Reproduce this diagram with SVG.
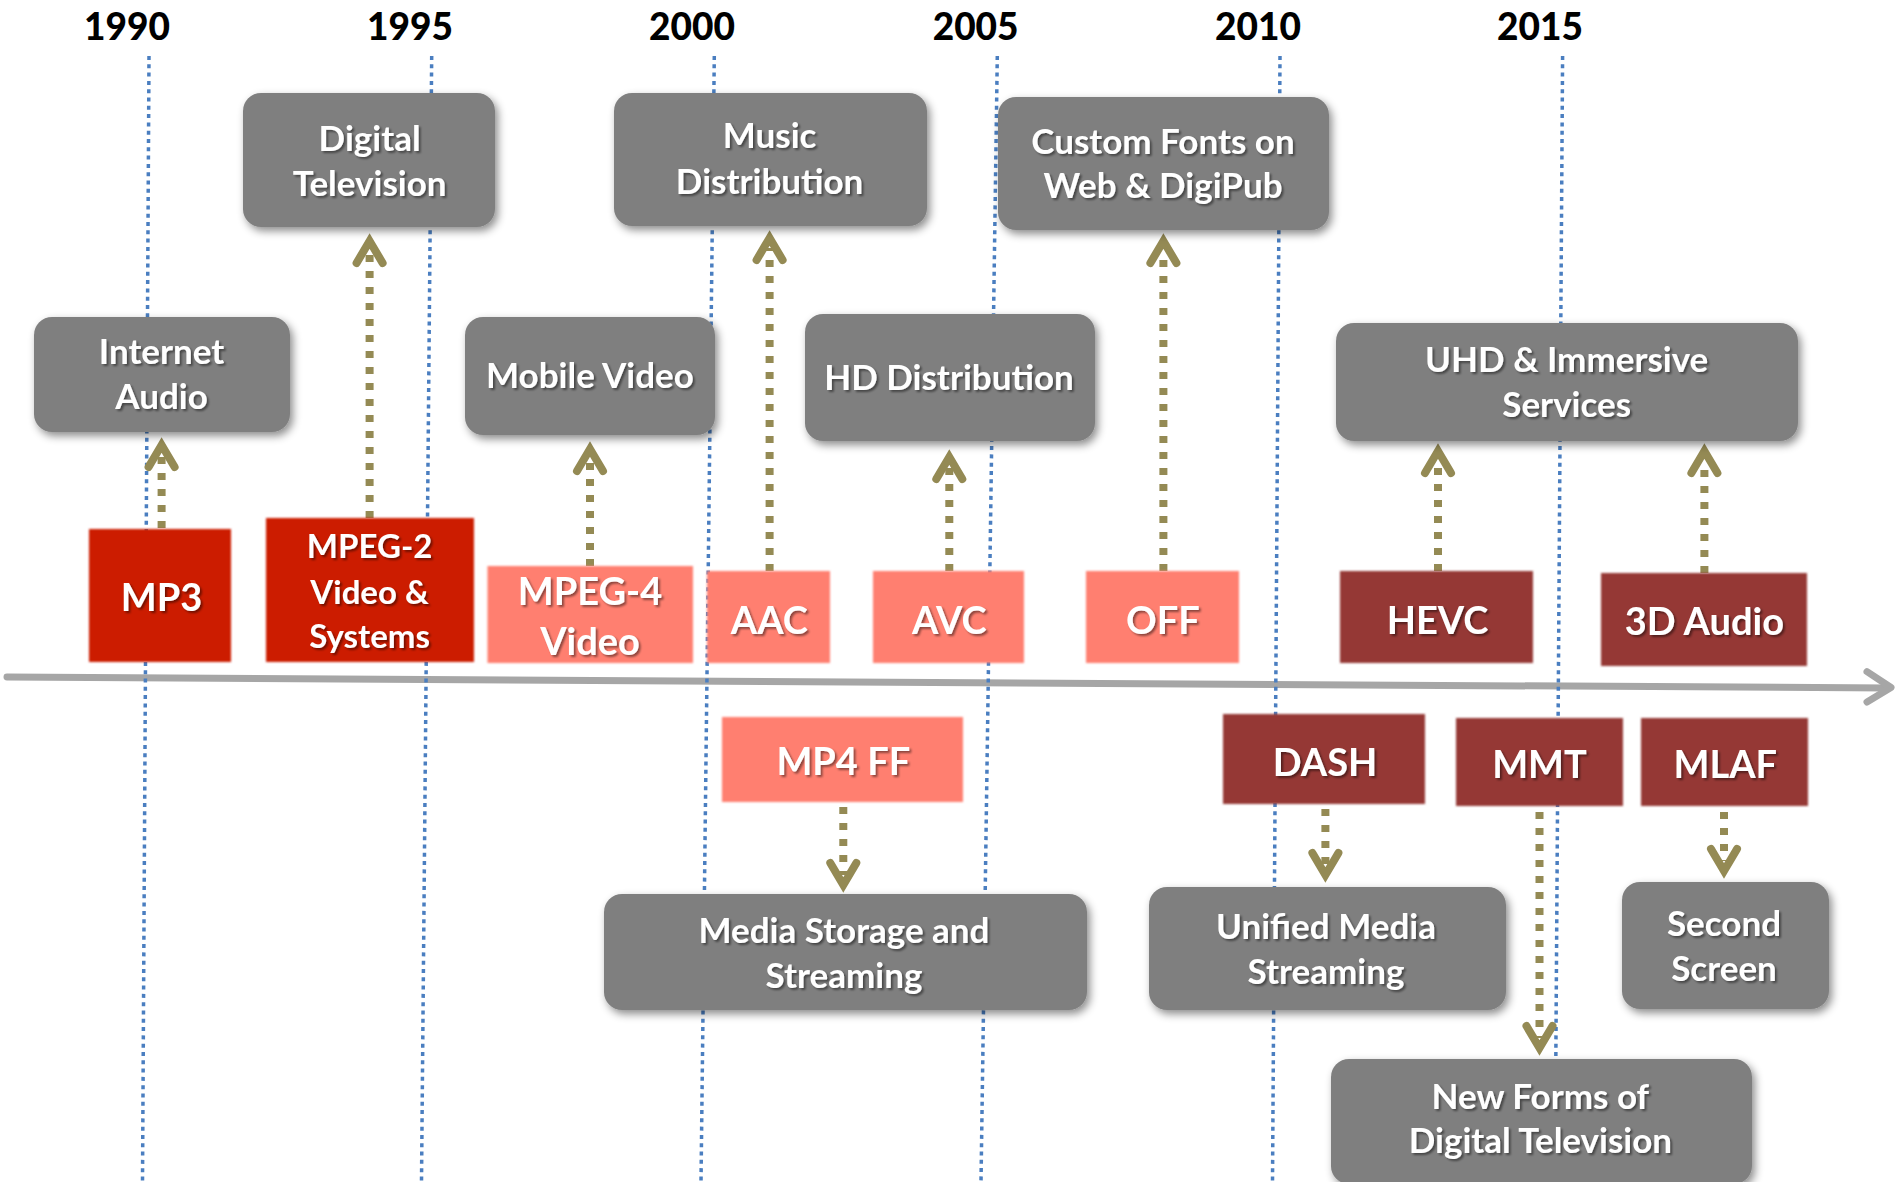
<svg xmlns="http://www.w3.org/2000/svg" width="1895" height="1182" viewBox="0 0 1895 1182">
<defs>
<style>
.yr{font-family:Lato,"Open Sans","Liberation Sans",sans-serif;font-weight:900;font-size:37px;fill:#000;text-anchor:middle}
.gl{font-family:Lato,"Open Sans","Liberation Sans",sans-serif;font-weight:bold;font-size:35px;fill:#fff;text-anchor:middle;filter:url(#ts)}
.rl{font-family:Lato,"Open Sans","Liberation Sans",sans-serif;font-weight:bold;font-size:38px;fill:#fff;text-anchor:middle;filter:url(#ts)}
.grid{stroke:#4A7EC0;stroke-width:3.5;stroke-dasharray:4 4.3;fill:none}
.gbox{fill:#7F7F7F;filter:url(#sh)}
.red{fill:#CC1B00;filter:url(#soft)}
.salmon{fill:#FF7F6F;filter:url(#soft)}
.dark{fill:#953735;filter:url(#soft)}
.conn{stroke:#948A54;stroke-width:8;stroke-dasharray:7 9;fill:none;marker-end:url(#chev)}
.axis{stroke:#A6A6A6;stroke-width:7;fill:none;stroke-linecap:round;stroke-linejoin:round}
</style>
<filter id="sh" x="-10%" y="-15%" width="125%" height="140%">
<feDropShadow dx="3" dy="4" stdDeviation="4" flood-color="#000" flood-opacity="0.45"/>
</filter>
<filter id="soft" x="-5%" y="-5%" width="110%" height="110%">
<feGaussianBlur stdDeviation="1.2"/>
</filter>
<filter id="ts" x="-10%" y="-20%" width="125%" height="150%">
<feDropShadow dx="2" dy="2" stdDeviation="1" flood-color="#000" flood-opacity="0.45"/>
</filter>
<marker id="chev" markerUnits="userSpaceOnUse" orient="auto" refX="-10" refY="0" markerWidth="60" markerHeight="60" overflow="visible">
<path d="M-22,-13 L0,0 L-22,13" fill="none" stroke="#948A54" stroke-width="8" stroke-linecap="round" stroke-linejoin="miter"/>
</marker>
</defs>
<rect width="1895" height="1182" fill="#fff"/>

<g id="years">
<text class="yr" x="127" y="40">1990</text>
<text class="yr" x="410" y="40">1995</text>
<text class="yr" x="692" y="40">2000</text>
<text class="yr" x="975.6" y="40">2005</text>
<text class="yr" x="1258" y="40">2010</text>
<text class="yr" x="1540" y="40">2015</text>
</g>

<g id="axis">
<path class="axis" d="M7,677 L1888,688"/>
<path class="axis" d="M1867,671.7 L1891,687.5 L1867,702"/>
</g>

<g id="gridlines">
<line class="grid" x1="149" y1="56" x2="142.5" y2="1182"/>
<line class="grid" x1="431.7" y1="56" x2="421.5" y2="1182"/>
<line class="grid" x1="714.3" y1="56" x2="701" y2="1182"/>
<line class="grid" x1="997.3" y1="56" x2="981" y2="1182"/>
<line class="grid" x1="1280" y1="56" x2="1272.5" y2="1182"/>
<line class="grid" x1="1562.6" y1="56" x2="1555" y2="1182"/>
</g>

<g id="connectors">
<line class="conn" x1="161.6" y1="528" x2="161.6" y2="455"/>
<line class="conn" x1="369.6" y1="518" x2="369.6" y2="251"/>
<line class="conn" x1="590" y1="566" x2="590" y2="459"/>
<line class="conn" x1="769.6" y1="571" x2="769.6" y2="248"/>
<line class="conn" x1="949.3" y1="571" x2="949.3" y2="467"/>
<line class="conn" x1="1163.4" y1="571" x2="1163.4" y2="251"/>
<line class="conn" x1="1438" y1="571" x2="1438" y2="461"/>
<line class="conn" x1="1704.4" y1="573" x2="1704.4" y2="461"/>
<line class="conn" x1="843.3" y1="807" x2="843.3" y2="875"/>
<line class="conn" x1="1325.4" y1="809" x2="1325.4" y2="865"/>
<line class="conn" x1="1539.5" y1="812" x2="1539.5" y2="1038"/>
<line class="conn" x1="1724" y1="812" x2="1724" y2="861"/>
</g>

<g id="internet-audio">
<rect class="gbox" x="34" y="317" width="256" height="115" rx="18"/>
<text class="gl" x="161.6" y="364">Internet</text>
<text class="gl" x="161.6" y="409">Audio</text>
</g>
<g id="digital-television">
<rect class="gbox" x="243" y="93" width="252" height="134" rx="18"/>
<text class="gl" x="369.6" y="151">Digital</text>
<text class="gl" x="369.6" y="196">Television</text>
</g>
<g id="mobile-video">
<rect class="gbox" x="465" y="317" width="250" height="118" rx="18"/>
<text class="gl" x="590" y="388">Mobile Video</text>
</g>
<g id="music-distribution">
<rect class="gbox" x="614" y="93" width="313" height="133" rx="18"/>
<text class="gl" x="769.6" y="147.5">Music</text>
<text class="gl" x="769.6" y="193.5">Distribution</text>
</g>
<g id="hd-distribution">
<rect class="gbox" x="805" y="314" width="290" height="127" rx="18"/>
<text class="gl" x="949" y="390">HD Distribution</text>
</g>
<g id="custom-fonts">
<rect class="gbox" x="998" y="97" width="331" height="133" rx="18"/>
<text class="gl" x="1163" y="154">Custom Fonts on</text>
<text class="gl" x="1163" y="197.5">Web &amp; DigiPub</text>
</g>
<g id="uhd-immersive">
<rect class="gbox" x="1336" y="323" width="462" height="118" rx="18"/>
<text class="gl" x="1566.7" y="371.5">UHD &amp; Immersive</text>
<text class="gl" x="1566.7" y="417">Services</text>
</g>
<g id="media-storage">
<rect class="gbox" x="604" y="894" width="483" height="116" rx="18"/>
<text class="gl" x="844" y="942.5">Media Storage and</text>
<text class="gl" x="844" y="987.5">Streaming</text>
</g>
<g id="unified-media">
<rect class="gbox" x="1149" y="887" width="357" height="123" rx="18"/>
<text class="gl" x="1326" y="939">Unified Media</text>
<text class="gl" x="1326" y="984">Streaming</text>
</g>
<g id="second-screen">
<rect class="gbox" x="1622" y="882" width="207" height="127" rx="18"/>
<text class="gl" x="1724" y="936">Second</text>
<text class="gl" x="1724" y="981">Screen</text>
</g>
<g id="new-forms">
<rect class="gbox" x="1331" y="1059" width="421" height="125" rx="18"/>
<text class="gl" x="1540.4" y="1109">New Forms of</text>
<text class="gl" x="1540.4" y="1153">Digital Television</text>
</g>

<g id="mp3">
<rect class="red" x="89" y="529" width="142" height="133"/>
<text class="rl" x="161.6" y="611">MP3</text>
</g>
<g id="mpeg2">
<rect class="red" x="266" y="518" width="208" height="144"/>
<text class="rl" style="font-size:33px" x="369.6" y="558">MPEG-2</text>
<text class="rl" style="font-size:33px" x="369.6" y="603.5">Video &amp;</text>
<text class="rl" style="font-size:33px" x="369.6" y="648">Systems</text>
</g>
<g id="mpeg4">
<rect class="salmon" x="487.5" y="566" width="205.5" height="97"/>
<text class="rl" x="590" y="605">MPEG-4</text>
<text class="rl" x="590" y="655">Video</text>
</g>
<g id="aac">
<rect class="salmon" x="707" y="571" width="123" height="92"/>
<text class="rl" x="769.4" y="634">AAC</text>
</g>
<g id="avc">
<rect class="salmon" x="873" y="571" width="151" height="92"/>
<text class="rl" x="949.3" y="634">AVC</text>
</g>
<g id="off">
<rect class="salmon" x="1086" y="571" width="153" height="92"/>
<text class="rl" x="1162.8" y="634">OFF</text>
</g>
<g id="hevc">
<rect class="dark" x="1340" y="571" width="193" height="92"/>
<text class="rl" x="1437.6" y="634">HEVC</text>
</g>
<g id="audio3d">
<rect class="dark" x="1601" y="573" width="206" height="93"/>
<text class="rl" x="1704.4" y="635">3D Audio</text>
</g>
<g id="mp4ff">
<rect class="salmon" x="722" y="717" width="241" height="85"/>
<text class="rl" x="843.3" y="775">MP4 FF</text>
</g>
<g id="dash">
<rect class="dark" x="1223" y="714" width="202" height="90"/>
<text class="rl" x="1325" y="776">DASH</text>
</g>
<g id="mmt">
<rect class="dark" x="1456" y="718" width="167" height="88"/>
<text class="rl" x="1539.5" y="778">MMT</text>
</g>
<g id="mlaf">
<rect class="dark" x="1641" y="718" width="167" height="88"/>
<text class="rl" x="1725.3" y="778">MLAF</text>
</g>
</svg>
